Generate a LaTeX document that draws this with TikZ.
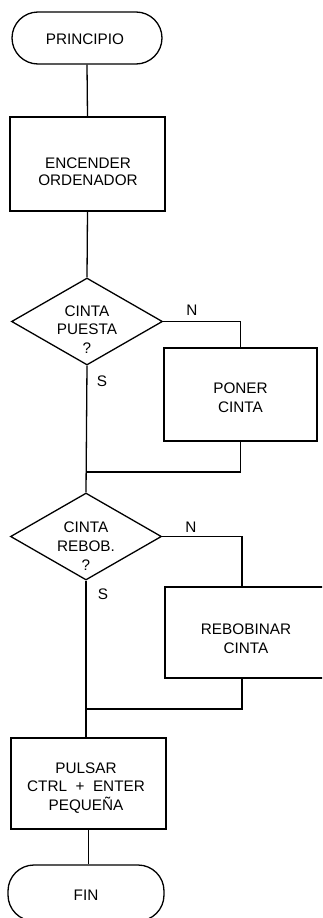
\documentclass[tikz,border=0pt]{standalone}
\usepackage{fontspec}
\setmainfont{Liberation Sans}
\usetikzlibrary{shapes.geometric}
\begin{document}
\begin{tikzpicture}[x=1pt,y=-1pt,line width=1.3pt,
  txt/.style={align=center,inner sep=0pt,font=\fontsize{15.3}{18.8}\selectfont},
  lbl/.style={inner sep=0pt,font=\fontsize{15.3}{17}\selectfont},
  term/.style={draw,rectangle,rounded corners=26pt,inner sep=0pt},
  procbox/.style={draw,rectangle,inner sep=0pt},
  decision/.style={draw,diamond,inner sep=0pt}]
\useasboundingbox (0,0) rectangle (322,918);
\begin{scope}
\clip (0,0) rectangle (322,918);
% start
\node[term,minimum width=150pt,minimum height=52pt] (start) at (87,38) {};
\node[txt] (tstart) at (85,39) {PRINCIPIO};
% encender
\node[procbox,minimum width=155pt,minimum height=94pt] (enc) at (87.5,164) {};
\node[txt,font=\fontsize{15.3}{17}\selectfont] (tenc) at (88,172) {ENCENDER\\ORDENADOR};
% decision 1
\node[decision,minimum width=151pt,minimum height=87pt] (d1) at (87,321.5) {};
\node[txt] (td1) at (87,329.5) {CINTA\\PUESTA\\?};
\node[lbl] (n1) at (192,310) {N};
\node[lbl] (s1) at (102,381) {S};
% poner
\node[procbox,minimum width=153pt,minimum height=93pt] (pon) at (240.5,394.5) {};
\node[txt] (tpon) at (240.5,398) {PONER\\CINTA};
% decision 2
\node[decision,minimum width=151pt,minimum height=87pt] (d2) at (86,536.5) {};
\node[txt] (td2) at (86,546) {CINTA\\REBOB.\\?};
\node[lbl] (n2) at (191,527) {N};
\node[lbl] (s2) at (103,594) {S};
% rebobinar
\node[procbox,minimum width=162pt,minimum height=91pt] (reb) at (246,632.5) {};
\node[txt] (treb) at (246,638.5) {REBOBINAR\\CINTA};
% pulsar
\node[procbox,minimum width=155pt,minimum height=91pt] (pul) at (88.5,783.5) {};
\node[txt] (tpul) at (86,788) {PULSAR\\CTRL \ + \ ENTER\\PEQUEÑA};
% fin
\node[term,minimum width=156pt,minimum height=56pt] (fin) at (86,893) {};
\node[txt] (tfin) at (86,895) {FIN};
% junction coordinates
\coordinate (j1) at (87,472);
\coordinate (j2) at (87,709);
% connectors
\draw (start.south) -- (enc.north);
\draw (enc.south) -- (d1.north);
\draw (d1.south) -- (d2.north);
\draw (d1.east) -| (pon.north);
\draw (pon.south) |- (j1);
\draw (d2.south) -- (d2.south |- pul.north);
\draw (d2.east) -| ([xshift=-4pt]reb.north);
\draw ([xshift=-4pt]reb.south) |- (j2);
\draw (pul.south) -- (pul.south |- fin.north);
\end{scope}
\end{tikzpicture}
\end{document}
